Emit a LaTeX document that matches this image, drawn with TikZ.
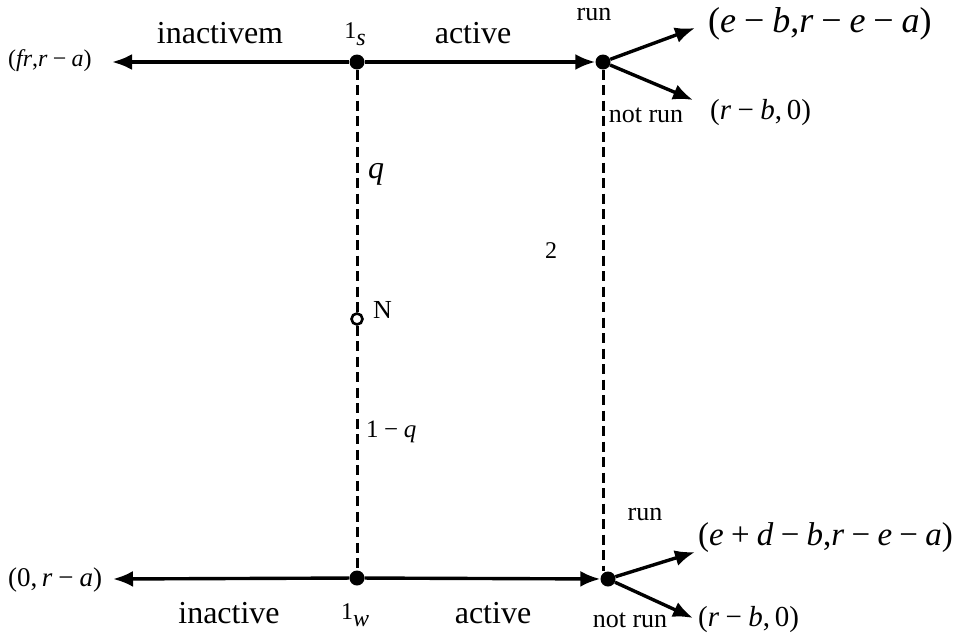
\documentclass[tikz,border=0pt]{standalone}
\usepackage{fontspec}
\setmainfont{Liberation Serif}
\usetikzlibrary{arrows.meta}
\newcommand\mi[1]{\textit{#1}}
\newcommand\mmn{\hspace{0.22em}−\hspace{0.22em}}
\newcommand\mpl{\hspace{0.22em}+\hspace{0.22em}}
\newcommand\fs[1]{\fontsize{#1}{#1}\selectfont}
\begin{document}
\begin{tikzpicture}[x=1pt,y=-1pt,
  dot/.style={circle,fill=black,inner sep=0pt,minimum size=15pt},
  chance/.style={circle,draw=black,fill=white,line width=2.6pt,inner sep=0pt,minimum size=11pt},
  branch/.style={line width=3.4pt,-{Latex[length=20pt,width=16pt]}},
  info/.style={line width=3pt,dash pattern=on 10pt off 5.5pt},
  lbl/.style={inner sep=0pt,anchor=base},
  lblw/.style={inner sep=0pt,anchor=base west},
]
\useasboundingbox (0,0) rectangle (960,632);
% decision nodes
\node[dot] (s1) at (357,62) {};
\node[dot] (tR) at (603,62) {};
\node[chance] (N) at (357,319) {};
\node[dot] (w1) at (357,578) {};
\node[dot] (bR) at (608,579) {};
% free ends
\coordinate (tL) at (112,62);
\coordinate (tRun) at (695,28);
\coordinate (tNot) at (693,100);
\coordinate (bL) at (113,579);
\coordinate (bRun) at (695,552);
\coordinate (bNot) at (693,618);
% info sets
\draw[info] (s1) -- (N);
\draw[info] (N) -- (w1);
\draw[info] (tR) -- (tR |- bR.north);
% branches
\draw[branch] (s1) -- (tL);
\draw[branch] (s1) -- (tR);
\draw[branch] (tR) -- (tRun);
\draw[branch] (tR) -- (tNot);
\draw[branch] (w1) -- (bL);
\draw[branch] (w1) -- (bR);
\draw[branch] (bR) -- (bRun);
\draw[branch] (bR) -- (bNot);
% labels
\node[lbl,font=\fs{32}] (lInM) at (220,43) {inactivem};
\node[lbl,font=\fs{32}] (lActT) at (473,43) {active};
\node[lbl,font=\fs{24}] (l1s) at (355,38) {1\raisebox{-0.3em}{\mi{s}}};
\node[lbl,font=\fs{26}] (lRunT) at (594,20) {run};
\node[lbl,font=\fs{26}] (lNotT) at (646,122) {not run};
\node[lblw,font=\fs{24}] (pFr) at (8,66) {(\mi{fr},\mi{r}\mmn\mi{a})};
\node[lblw,font=\fs{36}] (pT1) at (708,32) {(\mi{e}\mmn\mi{b},\mi{r}\mmn\mi{e}\mmn\mi{a})};
\node[lblw,font=\fs{29}] (pT2) at (710,119) {(\mi{r}\mmn\mi{b},\,0)};
\node[lbl,font=\fs{32}] (lq) at (376,178) {\mi{q}};
\node[lbl,font=\fs{24}] (l2) at (551,258) {2};
\node[lblw,font=\fs{26}] (lN) at (373,318) {N};
\node[lblw,font=\fs{25}] (l1q) at (366,437) {1\mmn\mi{q}};
\node[lblw,font=\fs{27}] (p0) at (8,586) {(0,\,\mi{r}\mmn\mi{a})};
\node[lbl,font=\fs{32}] (lIn) at (229,623) {inactive};
\node[lbl,font=\fs{24}] (l1w) at (355,619) {1\raisebox{-0.3em}{\mi{w}}};
\node[lbl,font=\fs{32}] (lActB) at (493,623) {active};
\node[lbl,font=\fs{26}] (lRunB) at (645,520) {run};
\node[lbl,font=\fs{26}] (lNotB) at (630,627) {not run};
\node[lblw,font=\fs{33}] (pB1) at (698,545) {(\mi{e}\mpl\mi{d}\mmn\mi{b},\mi{r}\mmn\mi{e}\mmn\mi{a})};
\node[lblw,font=\fs{29}] (pB2) at (698,626) {(\mi{r}\mmn\mi{b},\,0)};
\end{tikzpicture}
\end{document}
